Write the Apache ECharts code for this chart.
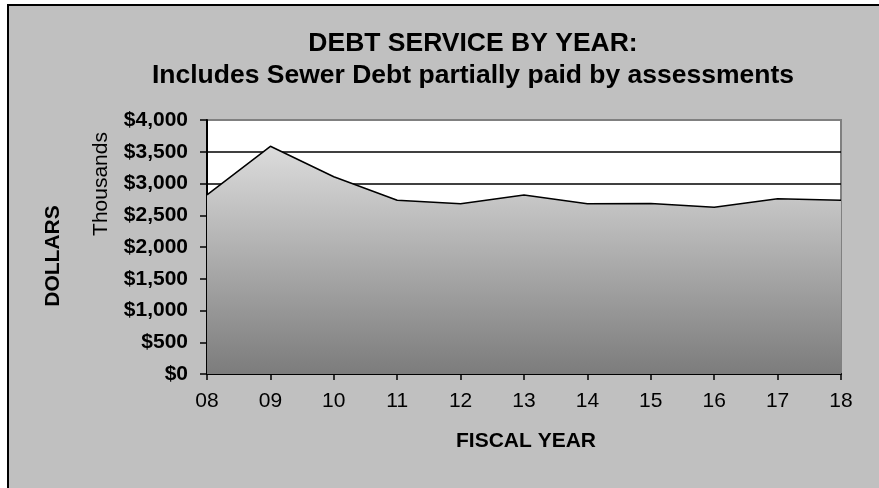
<!DOCTYPE html>
<html>
<head>
<meta charset="utf-8">
<script src="https://cdn.jsdelivr.net/npm/echarts@6/dist/echarts.min.js"></script>
<style>
html,body{margin:0;padding:0;background:#fff;}
#c{width:879px;height:488px;}
</style>
</head>
<body>
<div id="c"></div>
<script>
const categories = ['08','09','10','11','12','13','14','15','16','17','18'];
const debtService = [2820, 3586, 3107, 2735, 2682, 2819, 2682, 2685, 2625, 2761, 2735];
const yTicks = [0, 500, 1000, 1500, 2000, 2500, 3000, 3500, 4000];

const FONT = '"Liberation Sans", Arial, sans-serif';
const chart = echarts.init(document.getElementById('c'), null, {renderer: 'canvas'});

const splitColors = yTicks.map((v, i) => i === yTicks.length - 1 ? '#808080' : '#000000');

chart.setOption({
  animation: false,
  backgroundColor: '#ffffff',
  graphic: [
    {type: 'rect', z: -10, silent: true, shape: {x: 8, y: 5, width: 900, height: 500},
     style: {fill: '#c0c0c0', stroke: '#000000', lineWidth: 2}},
    {type: 'text', z: 10, x: 101, y: 184, rotation: Math.PI / 2,
     style: {text: 'Thousands', font: '21px ' + FONT, fill: '#000', align: 'center', verticalAlign: 'middle'}},
    {type: 'text', z: 10, x: 53, y: 256, rotation: Math.PI / 2,
     style: {text: 'DOLLARS', font: 'bold 21px ' + FONT, fill: '#000', align: 'center', verticalAlign: 'middle'}},
    {type: 'text', z: 10, x: 526, y: 441,
     style: {text: 'FISCAL YEAR', font: 'bold 21px ' + FONT, fill: '#000', align: 'center', verticalAlign: 'middle'}}
  ],
  title: {
    text: 'DEBT SERVICE BY YEAR:\nIncludes Sewer Debt partially paid by assessments',
    left: 468,
    top: 23,
    textAlign: 'center',
    textStyle: {fontFamily: FONT, fontWeight: 'bold', fontSize: 26.5, color: '#000', lineHeight: 32}
  },
  grid: {
    left: 207, right: 38, top: 120, bottom: 114,
    show: true, backgroundColor: '#ffffff', borderColor: '#808080', borderWidth: 2
  },
  xAxis: {
    type: 'category',
    data: categories,
    boundaryGap: false,
    axisLine: {lineStyle: {color: '#000', width: 2}},
    axisTick: {show: true, length: 6, lineStyle: {color: '#000', width: 1.5}},
    axisLabel: {fontFamily: FONT, fontSize: 21, color: '#000', margin: 17},
    splitLine: {show: false}
  },
  yAxis: {
    type: 'value',
    min: 0, max: 4000, interval: 500,
    axisLine: {show: true, lineStyle: {color: '#000', width: 2}},
    axisTick: {show: true, length: 7, lineStyle: {color: '#000', width: 1.5}},
    axisLabel: {
      fontFamily: FONT, fontWeight: 'bold', fontSize: 21, color: '#000', margin: 19,
      formatter: v => '$' + v.toLocaleString('en-US')
    },
    splitLine: {show: true, lineStyle: {color: splitColors, width: 1.5}}
  },
  series: [{
    type: 'line',
    data: debtService,
    symbol: 'none',
    lineStyle: {color: '#000', width: 1.5},
    areaStyle: {
      opacity: 1,
      color: new echarts.graphic.LinearGradient(0, 0, 0, 1, [
        {offset: 0, color: '#dcdcdc'},
        {offset: 1, color: '#7c7c7c'}
      ])
    }
  }]
});
</script>
</body>
</html>
